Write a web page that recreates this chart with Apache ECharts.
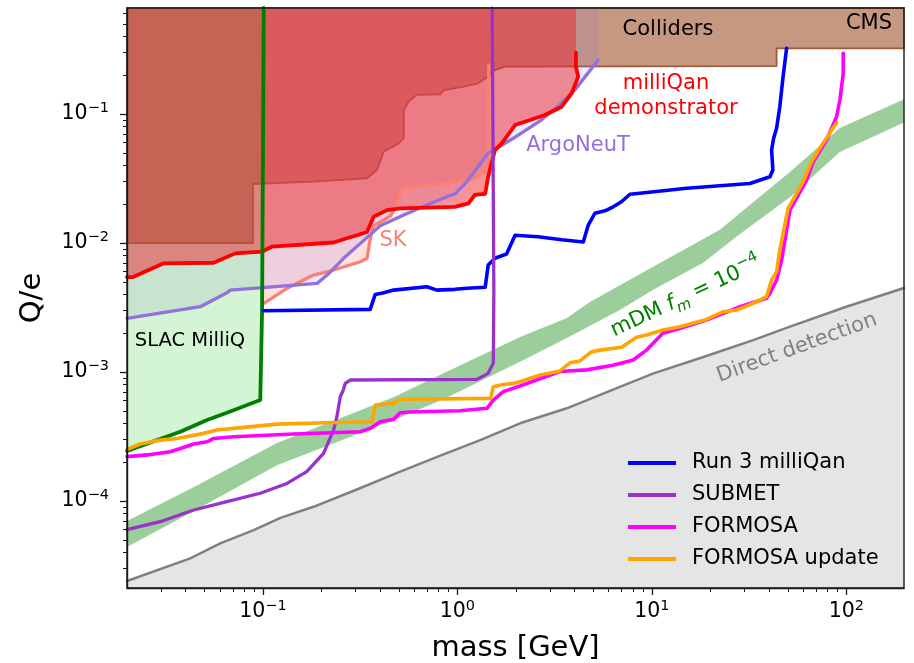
<!DOCTYPE html>
<html>
<head>
<meta charset="utf-8">
<script src="https://cdn.jsdelivr.net/npm/echarts@6/dist/echarts.min.js"></script>
<style>html,body{margin:0;padding:0;background:#fff}#c{width:914px;height:663px}</style>
</head>
<body>
<div id="c"></div>
<script>
// ---------------- axis ranges & ticks ----------------
const XMIN = 0.02, XMAX = 198;
const YMIN = 2.12e-5, YMAX = 0.664;
const xTickValues = [0.1, 1, 10, 100];
const yTickValues = [1e-4, 1e-3, 1e-2, 1e-1];
const xMinorTicks = [0.03,0.04,0.05,0.06,0.07,0.08,0.09,0.2,0.3,0.4,0.5,0.6,0.7,0.8,0.9,2,3,4,5,6,7,8,9,20,30,40,50,60,70,80,90];
const yMinorTicks = [3e-5,4e-5,5e-5,6e-5,7e-5,8e-5,9e-5,2e-4,3e-4,4e-4,5e-4,6e-4,7e-4,8e-4,9e-4,2e-3,3e-3,4e-3,5e-3,6e-3,7e-3,8e-3,9e-3,2e-2,3e-2,4e-2,5e-2,6e-2,7e-2,8e-2,9e-2,2e-1,3e-1,4e-1,5e-1,6e-1];

// ---------------- curves [mass GeV, Q/e] ----------------
const run3 = [[0.1,2.99e-3],[0.356,3.06e-3],[0.378,4.0e-3],[0.418,4.12e-3],[0.47,4.32e-3],[0.697,4.59e-3],[0.785,4.32e-3],[0.971,4.38e-3],[1.12,4.46e-3],[1.39,4.54e-3],[1.44,6.76e-3],[1.56,7.62e-3],[1.79,8.22e-3],[1.98,1.15e-2],[2.6,1.12e-2],[3.44,1.06e-2],[4.44,1.02e-2],[4.71,1.38e-2],[5.09,1.70e-2],[5.74,1.78e-2],[6.33,1.91e-2],[6.98,2.09e-2],[7.71,2.39e-2],[8.67,2.43e-2],[15.1,2.66e-2],[19.1,2.73e-2],[31.9,2.90e-2],[40.5,3.27e-2],[41.9,3.68e-2],[41.3,5.26e-2],[42.3,6.49e-2],[43.8,7.75e-2],[45.5,0.114],[47.3,0.195],[49.3,0.323]];

const submet = [[0.02,6.0e-5],[0.0296,6.92e-5],[0.0441,8.53e-5],[0.0653,9.89e-5],[0.0969,1.15e-4],[0.133,1.37e-4],[0.168,1.69e-4],[0.205,2.34e-4],[0.231,3.56e-4],[0.240,4.51e-4],[0.25,6.44e-4],[0.259,7.26e-4],[0.265,8.18e-4],[0.281,8.68e-4],[1.26,8.78e-4],[1.44,9.78e-4],[1.53,1.17e-3],[1.54,4.32e-3],[1.51,0.664]];

const formosa = [[0.02,2.21e-4],[0.0253,2.28e-4],[0.0334,2.41e-4],[0.0376,2.56e-4],[0.0441,2.77e-4],[0.0516,2.88e-4],[0.0558,3.06e-4],[0.0707,3.15e-4],[0.144,3.31e-4],[0.317,3.45e-4],[0.356,3.66e-4],[0.401,4.12e-4],[0.47,4.30e-4],[0.508,4.84e-4],[0.572,4.90e-4],[1.03,5.02e-4],[1.42,5.24e-4],[1.53,6.07e-4],[1.72,7.05e-4],[2.1,7.8e-4],[3.37,1.01e-3],[4.62,1.04e-3],[6.32,1.13e-3],[8.02,1.24e-3],[9.39,1.48e-3],[11.4,2.0e-3],[13.9,2.18e-3],[19.1,2.53e-3],[23.3,2.85e-3],[28.4,3.21e-3],[38.9,3.73e-3],[40.5,4.08e-3],[43.8,5.17e-3],[46.5,7.39e-3],[51.3,1.8e-2],[62.5,3.08e-2],[67.6,4.27e-2],[79.2,6.29e-2],[89.1,9.54e-2],[92.7,0.1285],[96.4,0.207],[96.4,0.296]];

const formosaUpdate = [[0.02,2.52e-4],[0.0234,2.77e-4],[0.0297,2.97e-4],[0.0361,3.06e-4],[0.0496,3.35e-4],[0.058,3.56e-4],[0.0707,3.66e-4],[0.118,3.95e-4],[0.213,4.05e-4],[0.364,4.12e-4],[0.378,5.55e-4],[0.47,5.72e-4],[0.508,6.15e-4],[1.48,6.26e-4],[1.53,7.69e-4],[1.66,7.93e-4],[1.95,8.18e-4],[2.1,8.41e-4],[2.66,9.48e-4],[3.37,1.02e-3],[3.79,1.18e-3],[4.27,1.22e-3],[4.9,1.44e-3],[5.41,1.48e-3],[6.99,1.56e-3],[8.35,1.86e-3],[9.39,1.94e-3],[11.4,2.12e-3],[13.9,2.25e-3],[19.1,2.56e-3],[23.3,2.94e-3],[27.3,3.03e-3],[33.2,3.41e-3],[38.9,3.84e-3],[41.3,5.17e-3],[43.8,6.0e-3],[45.5,8.83e-3],[50.2,1.86e-2],[60.0,2.99e-2],[66.2,4.27e-2],[73.1,5.43e-2],[89.1,8.57e-2]];

const directDetection = [[0.02,2.4e-5],[0.0423,3.6e-5],[0.0603,4.7e-5],[0.0896,5.96e-5],[0.123,7.41e-5],[0.182,9.03e-5],[0.304,1.23e-4],[0.508,1.69e-4],[0.817,2.25e-4],[1.31,2.97e-4],[2.1,4.01e-4],[3.65,5.24e-4],[6.85,7.69e-4],[10.2,9.77e-4],[18.4,1.31e-3],[33.2,1.77e-3],[51.3,2.25e-3],[100,3.21e-3],[198,4.48e-3]];

const mdmUpper = [[0.02,7.0e-5],[0.0442,1.285e-4],[0.118,2.82e-4],[0.472,6.40e-4],[0.853,9.83e-4],[2.10,1.87e-3],[3.66,2.62e-3],[4.8,3.49e-3],[10.1,6.52e-3],[22.4,1.27e-2],[28.4,1.71e-2],[51.3,3.55e-2],[92.6,7.80e-2],[198,0.13]];
const mdmLower = [[0.02,4.40e-5],[0.0442,8.37e-5],[0.118,1.90e-4],[0.472,4.25e-4],[0.853,6.18e-4],[2.10,1.20e-3],[3.66,1.84e-3],[6.85,3.03e-3],[10.1,4.32e-3],[18.3,7.0e-3],[27.4,1.13e-2],[51.3,2.27e-2],[92.6,5.08e-2],[198,8.6e-2]];

const slac = [[0.02,2.45e-4],[0.0376,3.45e-4],[0.0516,4.25e-4],[0.0653,4.84e-4],[0.0969,6.07e-4],[0.0985,6.2e-4],[0.099,3e-3],[0.101,0.664]];

const demonstrator = [[0.02,5.45e-3],[0.0215,5.45e-3],[0.0309,6.97e-3],[0.0558,7.04e-3],[0.0721,8.32e-3],[0.0989,8.57e-3],[0.111,9.37e-3],[0.231,1.01e-2],[0.27,1.09e-2],[0.305,1.15e-2],[0.343,1.22e-2],[0.371,1.60e-2],[0.434,1.80e-2],[0.508,1.86e-2],[0.971,1.91e-2],[1.14,2.03e-2],[1.23,2.36e-2],[1.39,2.41e-2],[1.44,3.27e-2],[1.56,5.26e-2],[1.69,5.93e-2],[1.98,8.22e-2],[2.82,9.84e-2],[3.44,0.114],[3.87,0.145],[4.18,0.195],[4.07,0.233],[4.07,0.299]];

const sk = [[0.101,3.41e-3],[0.133,4.46e-3],[0.182,5.65e-3],[0.231,6.18e-3],[0.317,7.17e-3],[0.343,7.62e-3],[0.356,1.07e-2],[0.371,1.36e-2],[0.452,1.62e-2],[0.489,1.97e-2],[0.519,2.69e-2],[0.697,2.77e-2],[1.12,3.08e-2],[1.21,3.18e-2],[1.44,3.68e-2],[1.45,0.24]];

const argoneut = [[0.02,2.61e-3],[0.0477,3.21e-3],[0.0653,4.12e-3],[0.068,4.32e-3],[0.19,4.87e-3],[0.214,5.65e-3],[0.26,7.62e-3],[0.317,9.95e-3],[0.401,1.36e-2],[0.53,1.65e-2],[0.697,1.97e-2],[0.883,2.29e-2],[0.971,2.4e-2],[1.12,2.99e-2],[1.44,4.96e-2],[1.94,6.49e-2],[2.65,8.8e-2],[3.36,0.118],[4.02,0.154],[5.3,0.262]];

const colliders = [[0.02,1.0e-2],[0.0889,1.0e-2],[0.0889,2.87e-2],[0.182,2.99e-2],[0.343,3.18e-2],[0.386,3.68e-2],[0.418,5.10e-2],[0.499,5.93e-2],[0.53,6.49e-2],[0.53,0.107],[0.561,0.125],[0.619,0.141],[0.816,0.142],[0.849,0.153],[1.08,0.163],[1.28,0.173],[1.42,0.193],[1.56,0.219],[1.76,0.233],[43.8,0.235],[43.8,0.323],[198,0.323]];

// ---------------- build ----------------
const FONT = 'DejaVu Sans';
const chart = echarts.init(document.getElementById('c'));

function regionAbove(pts) {
  const last = pts[pts.length - 1], first = pts[0];
  return pts.concat([[last[0], YMAX], [first[0], YMAX]]);
}
function regionBelow(pts) {
  const last = pts[pts.length - 1], first = pts[0];
  return pts.concat([[last[0], YMIN], [first[0], YMIN]]);
}
function band(up, low) { return up.concat(low.slice().reverse()); }

function polygon(name, pts, fill, stroke, lw, z) {
  return {
    type: 'custom', name: name, silent: true, z: z, animation: false,
    coordinateSystem: 'cartesian2d', xAxisIndex: 0, yAxisIndex: 0,
    data: [pts[0]],
    renderItem: function (params, api) {
      return {
        type: 'polygon',
        shape: { points: pts.map(function (p) { return api.coord(p); }) },
        style: { fill: fill, stroke: stroke || 'none', lineWidth: lw || 0, lineJoin: 'round' }
      };
    }
  };
}
function line(name, pts, color, width, z) {
  return {
    type: 'line', name: name, data: pts, z: z, silent: true,
    showSymbol: false, symbol: 'none', clip: true, animation: false,
    lineStyle: { color: color, width: width, cap: 'round', join: 'round' },
    itemStyle: { color: color },
    emphasis: { disabled: true }
  };
}

const decadeLabel = function (v) {
  const e = Math.round(Math.log10(v));
  if (Math.abs(Math.log10(v) - e) > 1e-6) return '';
  return '{b|10}{s|' + (e < 0 ? '\u2212' + (-e) : String(e)) + '}';
};
const tickRich = {
  b: { fontSize: 20.5, fontFamily: FONT, color: '#000', lineHeight: 26 },
  s: { fontSize: 14.5, fontFamily: FONT, color: '#000', lineHeight: 14, verticalAlign: 'top' }
};
const spine = { color: '#1a1a1a', width: 1.4 };

const option = {
  animation: false,
  backgroundColor: '#fff',
  textStyle: { fontFamily: FONT },
  grid: { left: 127, right: 10, top: 8, bottom: 75, show: true, borderColor: '#1a1a1a', borderWidth: 1.4, z: 40,
          backgroundColor: 'transparent', containLabel: false, outerBoundsMode: 'none' },
  xAxis: [
    { type: 'log', logBase: 10, min: XMIN, max: XMAX, position: 'bottom', z: 40,
      axisLine: { show: true, onZero: false, lineStyle: spine },
      axisTick: { show: true, customValues: xTickValues, length: 7, lineStyle: { color: '#1a1a1a', width: 1.3 } },
      axisLabel: { show: true, customValues: xTickValues, margin: 11, formatter: decadeLabel, rich: tickRich },
      splitLine: { show: false },
      name: 'mass [GeV]', nameLocation: 'middle', nameGap: 46,
      nameTextStyle: { fontSize: 29, fontFamily: FONT, color: '#000' } },
    { type: 'log', logBase: 10, min: XMIN, max: XMAX, position: 'bottom', z: 40,
      axisLine: { show: false },
      axisTick: { show: true, customValues: xMinorTicks, length: 4, lineStyle: { color: '#1a1a1a', width: 1 } },
      axisLabel: { show: false }, splitLine: { show: false } }
  ],
  yAxis: [
    { type: 'log', logBase: 10, min: YMIN, max: YMAX, position: 'left', z: 40,
      axisLine: { show: true, onZero: false, lineStyle: spine },
      axisTick: { show: true, customValues: yTickValues, length: 7, lineStyle: { color: '#1a1a1a', width: 1.3 } },
      axisLabel: { show: true, customValues: yTickValues, margin: 18, formatter: decadeLabel, rich: tickRich },
      splitLine: { show: false },
      name: 'Q/e', nameLocation: 'middle', nameGap: 80,
      nameTextStyle: { fontSize: 29, fontFamily: FONT, color: '#000' } },
    { type: 'log', logBase: 10, min: YMIN, max: YMAX, position: 'left', z: 40,
      axisLine: { show: false },
      axisTick: { show: true, customValues: yMinorTicks, length: 4, lineStyle: { color: '#1a1a1a', width: 1 } },
      axisLabel: { show: false }, splitLine: { show: false } }
  ],
  legend: {
    data: ['Run 3 milliQan', 'SUBMET', 'FORMOSA', 'FORMOSA update'],
    orient: 'vertical', left: 623, top: 446, icon: 'rect',
    itemWidth: 48, itemHeight: 4, itemGap: 8, selectedMode: false, z: 45,
    textStyle: { fontSize: 21, fontFamily: FONT, color: '#000', lineHeight: 24, padding: [0, 0, 0, 11] }
  },
  series: [
    polygon('dd', regionBelow(directDetection), '#e5e5e5', null, 0, 1),
    polygon('mdm', band(mdmUpper, mdmLower), 'rgba(0,128,0,0.39)', null, 0, 2),
    polygon('colliders', colliders.concat([[198, YMAX], [0.02, YMAX]]), 'rgba(160,82,45,0.6)', 'rgba(150,78,42,0.9)', 1.8, 3),
    polygon('skfill', regionAbove(sk), 'rgba(250,128,114,0.245)', null, 0, 4),
    polygon('argofill', regionAbove(argoneut), 'rgba(147,112,219,0.15)', null, 0, 5),
    polygon('slacfill', regionAbove(slac), 'rgba(60,210,60,0.22)', null, 0, 6),
    polygon('demofill', regionAbove(demonstrator), 'rgba(235,40,48,0.5)', null, 0, 7),
    line('dd line', directDetection, '#808080', 2.5, 10),
    line('SK', sk, '#fa8072', 3.3, 11),
    line('ArgoNeuT', argoneut, '#9370db', 3.3, 12),
    line('demonstrator', demonstrator, '#ff0000', 3.8, 13),
    line('SLAC', slac, '#008000', 3.8, 14),
    line('Run 3 milliQan', run3, '#0000ff', 3.6, 15),
    line('SUBMET', submet, '#9932cc', 3.3, 16),
    line('FORMOSA', formosa, '#ff00ff', 3.6, 17),
    line('FORMOSA update', formosaUpdate, '#ffa500', 3.6, 18)
  ],
  graphic: [
    { type: 'text', x: 668, y: 30, z: 50, silent: true,
      style: { text: 'Colliders', fontSize: 21, fontFamily: FONT, fill: '#000', align: 'center', verticalAlign: 'middle' } },
    { type: 'text', x: 869, y: 24, z: 50, silent: true,
      style: { text: 'CMS', fontSize: 21, fontFamily: FONT, fill: '#000', align: 'center', verticalAlign: 'middle' } },
    { type: 'text', x: 666, y: 96, z: 50, silent: true,
      style: { text: 'milliQan\ndemonstrator', fontSize: 21, lineHeight: 25, fontFamily: FONT, fill: '#ff0000', align: 'center', verticalAlign: 'middle' } },
    { type: 'text', x: 578, y: 146, z: 50, silent: true,
      style: { text: 'ArgoNeuT', fontSize: 21, fontFamily: FONT, fill: '#9370db', align: 'center', verticalAlign: 'middle' } },
    { type: 'text', x: 393, y: 241, z: 50, silent: true,
      style: { text: 'SK', fontSize: 21, fontFamily: FONT, fill: '#fa8072', align: 'center', verticalAlign: 'middle' } },
    { type: 'text', x: 190, y: 341, z: 50, silent: true,
      style: { text: 'SLAC MilliQ', fontSize: 19.5, fontFamily: FONT, fill: '#000', align: 'center', verticalAlign: 'middle' } },
    { type: 'text', x: 686, y: 297, z: 50, silent: true, rotation: 25 * Math.PI / 180,
      style: { text: 'mDM {i|f}{m|m} = 10{s|\u22124}', fontSize: 21, lineHeight: 30, fontFamily: FONT, fill: '#008000', align: 'center', verticalAlign: 'middle',
        rich: {
          i: { fontSize: 21, fontStyle: 'italic', fontFamily: FONT, fill: '#008000', lineHeight: 30 },
          m: { fontSize: 15, fontStyle: 'italic', fontFamily: FONT, fill: '#008000', lineHeight: 18, verticalAlign: 'bottom' },
          s: { fontSize: 15, fontFamily: FONT, fill: '#008000', lineHeight: 15, verticalAlign: 'top' }
        } } },
    { type: 'text', x: 797, y: 348, z: 50, silent: true, rotation: 20 * Math.PI / 180,
      style: { text: 'Direct detection', fontSize: 21, fontFamily: FONT, fill: '#808080', align: 'center', verticalAlign: 'middle' } }
  ]
};
chart.setOption(option);
</script>
</body>
</html>
